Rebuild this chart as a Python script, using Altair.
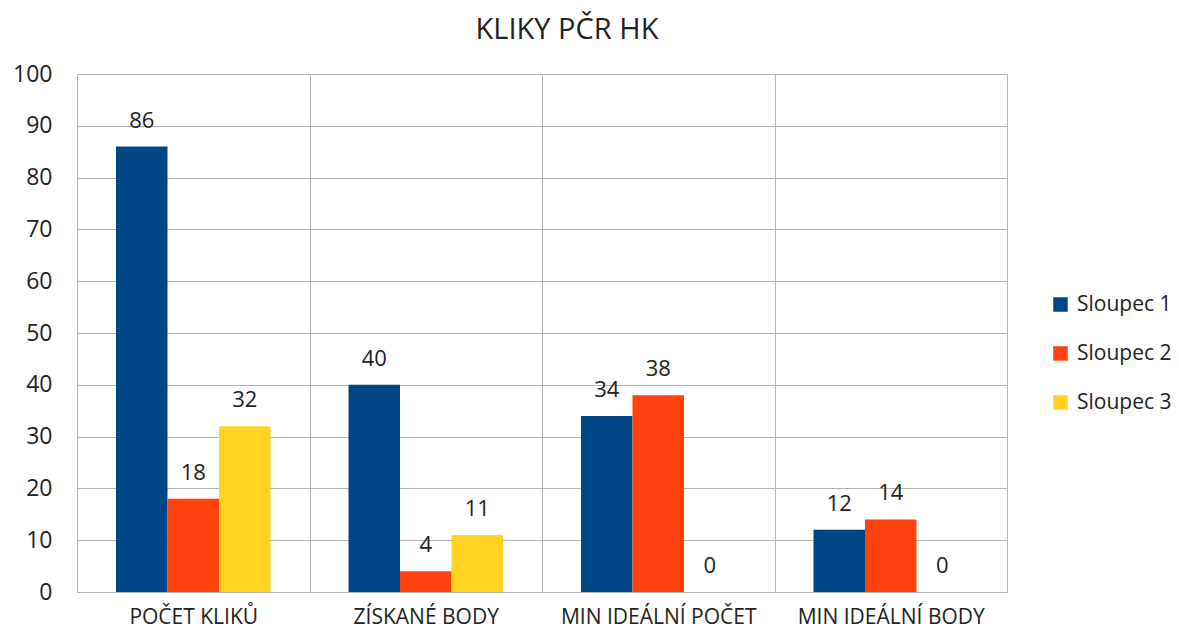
import altair as alt
import pandas as pd

categories = ["POČET KLIKŮ", "ZÍSKANÉ BODY", "MIN IDEÁLNÍ POČET", "MIN IDEÁLNÍ BODY"]
series = ["Sloupec 1", "Sloupec 2", "Sloupec 3"]
sloupec1 = [86, 40, 34, 12]
sloupec2 = [18, 4, 38, 14]
sloupec3 = [32, 11, 0, 0]
colors = ["#004586", "#ff420e", "#ffd320"]

rows = []
for i, c in enumerate(categories):
    for s, vals in zip(series, [sloupec1, sloupec2, sloupec3]):
        rows.append({"kategorie": c, "serie": s, "hodnota": vals[i]})
df = pd.DataFrame(rows)

FONT = "Open Sans"
TXT = "#222222"
GRID = "#b3b3b3"

x = alt.X("kategorie:N", sort=categories, title=None,
          scale=alt.Scale(paddingInner=0, paddingOuter=0),
          axis=alt.Axis(tickBand="extent", grid=True, gridColor=GRID, ticks=False,
                        domainColor=GRID, labelAngle=0, labelFontSize=21,
                        labelFont=FONT, labelColor=TXT, labelPadding=14,
                        labelLimit=0))
xoff = alt.XOffset("serie:N", sort=series,
                   scale=alt.Scale(paddingInner=0, paddingOuter=0.757))
y = alt.Y("hodnota:Q", title=None,
          scale=alt.Scale(domain=[0, 100], nice=False),
          axis=alt.Axis(values=list(range(0, 101, 10)), grid=True, gridColor=GRID,
                        ticks=False, domain=False, labelFontSize=23, labelFont=FONT,
                        labelColor=TXT, labelPadding=25))

bars = alt.Chart(df).mark_bar().encode(
    x=x, xOffset=xoff, y=y,
    color=alt.Color("serie:N", sort=series, title=None,
                    scale=alt.Scale(domain=series, range=colors),
                    legend=alt.Legend(orient="none", legendX=973, legendY=220,
                                      symbolType="square", symbolSize=210,
                                      symbolStrokeWidth=0, labelFontSize=21,
                                      labelFont=FONT, labelColor=TXT,
                                      rowPadding=27, labelOffset=6,
                                      labelLimit=0)),
)

labels = alt.Chart(df).mark_text(baseline="bottom", dy=-14, fontSize=22,
                                 font=FONT, color=TXT).encode(
    x=alt.X("kategorie:N", sort=categories), xOffset=xoff,
    y=alt.Y("hodnota:Q"), text="hodnota:Q",
)

chart = (bars + labels).properties(
    width=930, height=518,
    padding={"left": 69, "top": 66, "right": 164, "bottom": 37},
    autosize=alt.AutoSizeParams(type="none"),
    title=alt.TitleParams("KLIKY PČR HK", font=FONT, fontSize=29, fontWeight="normal",
                          color=TXT, dx=25, offset=18),
).configure_view(stroke=None)

chart.save("out.html", embed_options={"renderer": "svg", "actions": False})
